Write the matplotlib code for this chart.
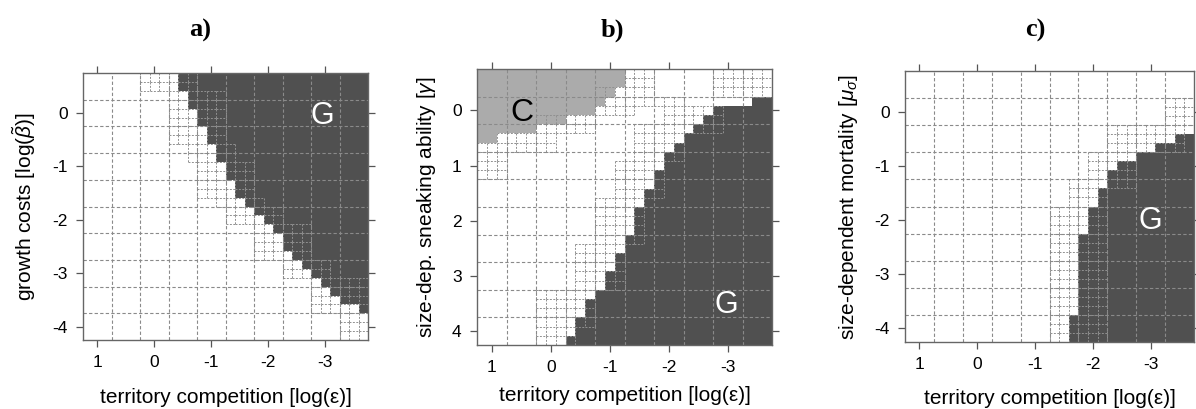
import numpy as np
import matplotlib
matplotlib.use("Agg")
from matplotlib import pyplot as plt
from matplotlib.colors import ListedColormap
from matplotlib.collections import LineCollection

plt.rcParams['font.family'] = ['Liberation Sans', 'DejaVu Sans']
plt.rcParams['axes.unicode_minus'] = False
plt.rcParams['mathtext.fontset'] = 'custom'
plt.rcParams['mathtext.rm'] = 'Liberation Sans'
plt.rcParams['mathtext.it'] = 'Liberation Sans:italic'

# parameter grid: 30 x 30 cells, 1/6 log-unit wide
N_CELLS = 30
CELL = 1 / 6
X_START = 1.25
x_ticks = [1, 0, -1, -2, -3]

# ---- panel a: growth costs
a_y_start = 0.75
a_y_ticks = [0, -1, -2, -3, -4]
# first column (from left) of the G region, per row from the top
a_g_start = [10, 10, 11, 11, 12, 12, 13, 13, 14, 14, 15, 15, 16, 16, 17,
             18, 19, 20, 21, 21, 22, 23, 24, 25, 26, 27, 29, 30, 30, 30]
# dotted (transition) blocks: (row_from, row_to, col_from, col_to)
a_dotted = [(0, 2, 6, 12), (2, 8, 9, 15), (8, 10, 11, 16), (10, 14, 12, 18),
            (14, 15, 14, 19), (15, 17, 15, 21), (17, 21, 18, 24),
            (21, 23, 21, 26), (23, 27, 24, 30), (27, 30, 27, 30)]

# ---- panel b: size-dependent sneaking ability
b_y_start = -0.75
b_y_ticks = [0, 1, 2, 3, 4]
b_g_start = [30, 30, 30, 28, 24, 23, 22, 21, 20, 19, 19, 18, 18, 17, 17,
             16, 16, 16, 15, 15, 14, 14, 13, 13, 12, 11, 11, 10, 10, 9]
# last column (exclusive) of the C region, per row from the top
b_c_end = [15, 15, 14, 13, 12, 9, 6, 2] + [0] * 22
b_dotted = [(0, 3, 15, 18), (0, 3, 24, 30), (2, 5, 12, 16), (3, 4, 16, 21),
            (4, 7, 19, 25), (5, 7, 6, 12), (7, 9, 2, 8), (8, 12, 0, 3),
            (6, 10, 16, 21), (10, 14, 14, 19), (14, 19, 12, 17),
            (19, 24, 10, 15), (24, 28, 6, 12), (28, 30, 6, 10)]

# ---- panel c: size-dependent mortality
c_y_start = 0.75
c_y_ticks = [0, -1, -2, -3, -4]
c_g_start = [30, 30, 30, 30, 30, 30, 30, 28, 26, 24, 22, 21, 21, 20, 20,
             19, 19, 19, 18, 18, 18, 18, 18, 18, 18, 18, 18, 17, 17, 17]
c_dotted = [(3, 6, 27, 30), (6, 9, 21, 29), (9, 13, 19, 24), (12, 15, 17, 21),
            (15, 30, 15, 21)]

x_label = 'territory competition [log(ε)]'
y_labels = ['growth costs [log($\\tilde{\\beta}$)]',
            'size-dep. sneaking ability [$\\mathit{\\gamma}$]',
            'size-dependent mortality [$\\mu_{\\sigma}$]']
titles = ['a)', 'b)', 'c)']

DARK = '#505050'
LIGHT = '#ababab'
cmap = ListedColormap(['white', LIGHT, DARK])


def build_state(g_start, c_end=None):
    state = np.zeros((N_CELLS, N_CELLS))
    cols = np.arange(N_CELLS)
    for r in range(N_CELLS):
        state[r, cols >= g_start[r]] = 2
        if c_end is not None:
            state[r, cols < c_end[r]] = 1
    return state


def draw_panel(ax, state, dotted, y_start, y_sign, y_ticks):
    x_edges = X_START - CELL * np.arange(N_CELLS + 1)
    y_edges = y_start + y_sign * CELL * np.arange(N_CELLS + 1)
    ax.pcolormesh(x_edges, y_edges, state, cmap=cmap, vmin=0, vmax=2,
                  shading='flat', zorder=0)

    # transition cells get a fine dashed outline
    segs = set()
    for r0, r1, c0, c1 in dotted:
        for r in range(r0, r1):
            for c in range(c0, c1):
                xa, xb = x_edges[c], x_edges[c + 1]
                ya, yb = y_edges[r], y_edges[r + 1]
                segs.update([((xa, ya), (xb, ya)), ((xa, yb), (xb, yb)),
                             ((xa, ya), (xa, yb)), ((xb, ya), (xb, yb))])
    ax.add_collection(LineCollection(list(segs), colors='#909090',
                                     linewidths=0.7, linestyles=(0, (2, 1.5)),
                                     zorder=1))

    # coarse dashed grid every 3 cells
    for xv in x_edges[3:-1:3]:
        ax.axvline(xv, color='#8a8a8a', lw=0.8, ls=(0, (3, 2)), zorder=2)
    for yv in y_edges[3:-1:3]:
        ax.axhline(yv, color='#8a8a8a', lw=0.8, ls=(0, (3, 2)), zorder=2)

    ax.set_xlim(x_edges[0], x_edges[-1])
    ax.set_ylim(y_edges[-1], y_edges[0])
    ax.set_xticks(x_ticks)
    ax.set_yticks(y_ticks)
    ax.tick_params(direction='out', length=5, width=0.9, color='#555555',
                   top=True, right=True, labeltop=False, labelright=False,
                   labelsize=12.5, pad=6)
    for sp in ax.spines.values():
        sp.set_color('#666666')
        sp.set_linewidth(1.0)


fig = plt.figure(figsize=(11.96, 4.09), dpi=100)
W, H = 1196, 409
boxes = [(83, 73, 368, 340), (477, 69, 772, 345), (905, 71, 1194, 342)]
axes = [fig.add_axes([l / W, 1 - b / H, (r - l) / W, (b - t) / H]) for l, t, r, b in boxes]

draw_panel(axes[0], build_state(a_g_start), a_dotted, a_y_start, -1, a_y_ticks)
draw_panel(axes[1], build_state(b_g_start, b_c_end), b_dotted, b_y_start, 1, b_y_ticks)
draw_panel(axes[2], build_state(c_g_start), c_dotted, c_y_start, -1, c_y_ticks)

axes[0].text(-2.95, -0.05, 'G', color='white', fontsize=22, ha='center', va='center', zorder=3)
axes[1].text(0.48, 0.05, 'C', color='black', fontsize=23, ha='center', va='center', zorder=3)
axes[1].text(-2.98, 3.53, 'G', color='white', fontsize=22, ha='center', va='center', zorder=3)
axes[2].text(-2.99, -2.02, 'G', color='white', fontsize=22, ha='center', va='center', zorder=3)

for ax, yl, lp in zip(axes, y_labels, [13, 8, 12]):
    ax.set_xlabel(x_label, fontsize=15, labelpad=lp)
    ax.set_ylabel(yl, fontsize=15, labelpad=10)

for ttl, xc in zip(titles, [200, 612, 1035]):
    fig.text(xc / W, 1 - 30 / H, ttl, fontsize=19, fontweight='bold',
             family=['Liberation Serif', 'DejaVu Serif'], ha='center', va='center')

fig.savefig('out.png', dpi=100)
